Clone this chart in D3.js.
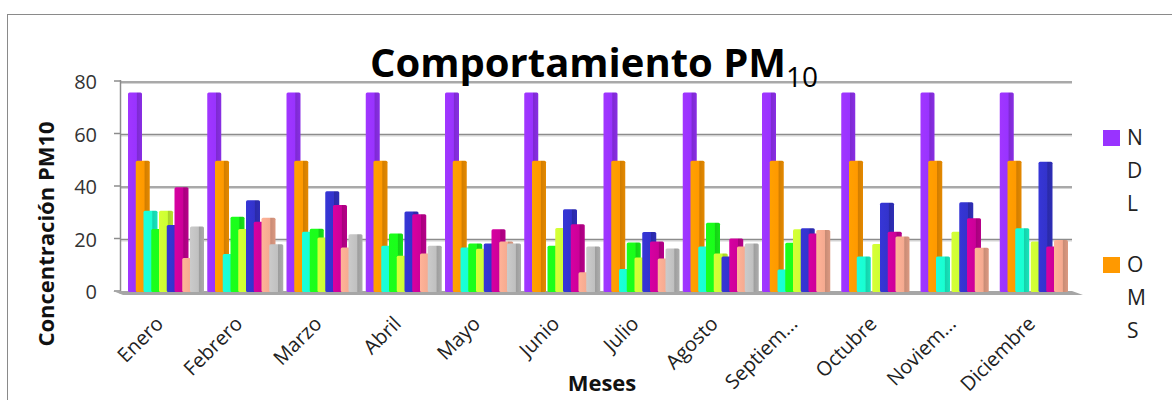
<!DOCTYPE html>
<html>
<head>
<meta charset="utf-8">
<script src="https://cdn.jsdelivr.net/npm/d3@7"></script>
<style>
  html, body { margin: 0; padding: 0; background: #fff; }
  svg { display: block; font-family: 'Open Sans', sans-serif; }
</style>
</head>
<body>
<div id="chart"></div>
<script>
// Meses (etiquetas tal como aparecen, truncadas)
const months = ['Enero', 'Febrero', 'Marzo', 'Abril', 'Mayo', 'Junio', 'Julio',
  'Agosto', 'Septiem...', 'Octubre', 'Noviem...', 'Diciembre'];

// Series
const ndl     = [76, 76, 76, 76, 76, 76, 76, 76, 76, 76, 76, 76];
const oms     = [50, 50, 50, 50, 50, 50, 50, 50, 50, 50, 50, 50];
const serie3  = [31, 14.5, 23, 17.6, 17, 0, 8.8, 17.3, 8.6, 13.5, 13.5, 24.3];
const serie4  = [24, 28.7, 24.1, 22.3, 18.5, 17.6, 18.9, 26.4, 18.8, 0, 0, 0];
const serie5  = [31, 24, 20.8, 13.8, 16.5, 24.4, 13.1, 14.7, 23.9, 18.3, 23, 19.2];
const serie6  = [25.5, 35, 38.4, 30.7, 18.5, 31.5, 22.9, 13.5, 24.3, 34, 34.2, 49.6];
const serie7  = [39.9, 26.8, 33.1, 29.6, 23.9, 25.8, 19.2, 20.4, 22.3, 23, 28.1, 17.3];
const serie8  = [13, 28.3, 17, 14.7, 19.2, 7.5, 12.8, 17.3, 23.6, 21.1, 16.9, 19.8];
const serie9  = [25, 18.2, 22, 17.6, 18.5, 17.3, 16.6, 18.5, 0, 0, 0, 0];

const seriesNames  = ['NDL', 'OMS', 'S3', 'S4', 'S5', 'S6', 'S7', 'S8', 'S9'];
const seriesValues = [ndl, oms, serie3, serie4, serie5, serie6, serie7, serie8, serie9];
const seriesColors = ['#9933FF', '#FF9900', '#19FFD1', '#1AFF1A', '#CCFF33',
  '#3333CC', '#CC0099', '#F5AA90', '#C0C0C0'];
const legendSeries = ['NDL', 'OMS'];

const yTicks = [0, 20, 40, 60, 80];

const width = 1172;
const height = 400;
const plot = { left: 121, right: 1072, top: 82, bottom: 292 };

const svg = d3.select('#chart').append('svg')
  .attr('width', width)
  .attr('height', height);

// Gradientes tipo 3D para las barras
const defs = svg.append('defs');
seriesColors.forEach((c, i) => {
  const g = defs.append('linearGradient')
    .attr('id', `grad${i}`)
    .attr('x1', 0).attr('x2', 1).attr('y1', 0).attr('y2', 0);
  g.append('stop').attr('offset', 0).attr('stop-color', d3.color(c).brighter(0.15));
  g.append('stop').attr('offset', 0.6).attr('stop-color', c);
  g.append('stop').attr('offset', 0.66).attr('stop-color', d3.color(c).darker(0.55));
  g.append('stop').attr('offset', 1).attr('stop-color', d3.color(c).darker(0.3));
});

// Borde del área del gráfico
svg.append('rect')
  .attr('x', 7.5).attr('y', 14.5)
  .attr('width', 1300).attr('height', 600)
  .attr('fill', 'none')
  .attr('stroke', '#8a8a8a')
  .attr('stroke-width', 1);

const x0 = d3.scaleBand()
  .domain(months)
  .range([plot.left + 1, plot.right + 1])
  .padding(0);

const step = 7.75;
const x1 = d3.scaleBand()
  .domain(seriesNames)
  .range([6, 6 + step * seriesNames.length]);
const barWidth = 14;

const y = d3.scaleLinear()
  .domain([0, 80])
  .range([plot.bottom, plot.top]);

// Líneas de cuadrícula
const grid = svg.append('g');
grid.selectAll('.grid-shadow')
  .data(yTicks.filter(d => d > 0))
  .join('line')
  .attr('x1', plot.left).attr('x2', plot.right)
  .attr('y1', d => y(d) + 1.5).attr('y2', d => y(d) + 1.5)
  .attr('stroke', '#d4d4d4').attr('stroke-width', 1);
grid.selectAll('.grid-line')
  .data(yTicks.filter(d => d > 0))
  .join('line')
  .attr('x1', plot.left).attr('x2', plot.right)
  .attr('y1', d => y(d)).attr('y2', d => y(d))
  .attr('stroke', '#8c8c8c').attr('stroke-width', 1.6);

// Eje Y (pared)
svg.append('line')
  .attr('x1', plot.left - 0.5).attr('x2', plot.left - 0.5)
  .attr('y1', y(80) - 2).attr('y2', y(0) + 2)
  .attr('stroke', '#8c8c8c').attr('stroke-width', 1.5);
svg.append('g').selectAll('line')
  .data(yTicks)
  .join('line')
  .attr('x1', plot.left - 7).attr('x2', plot.left)
  .attr('y1', d => y(d) - 1).attr('y2', d => y(d) - 1)
  .attr('stroke', '#8c8c8c').attr('stroke-width', 1.5);

// Suelo
svg.append('polygon')
  .attr('points', [
    [plot.left - 8, y(0) - 1], [plot.right, y(0) - 1],
    [plot.right + 11, y(0) + 3], [plot.left + 2, y(0) + 3]
  ].map(p => p.join(',')).join(' '))
  .attr('fill', '#a6a6a6');

// Barras: cada serie se dibuja encima de la anterior
const bars = svg.append('g');
seriesNames.forEach((name, si) => {
  bars.append('g')
    .selectAll('rect')
    .data(seriesValues[si].map((v, mi) => ({ month: months[mi], value: v })))
    .join('rect')
    .filter(d => d.value > 0)
    .attr('x', d => x0(d.month) + x1(name))
    .attr('y', d => y(d.value))
    .attr('width', barWidth)
    .attr('height', d => y(0) - y(d.value))
    .attr('rx', 1.5)
    .attr('fill', `url(#grad${si})`);
});

// Etiquetas del eje Y
svg.append('g').selectAll('text')
  .data(yTicks)
  .join('text')
  .attr('x', 97)
  .attr('y', d => y(d) + 7)
  .attr('text-anchor', 'end')
  .attr('font-size', '20px')
  .attr('fill', '#333')
  .text(d => d);

// Etiquetas de los meses (rotadas)
svg.append('g').selectAll('text')
  .data(months)
  .join('text')
  .attr('transform', d => `translate(${x0(d) + x0.bandwidth() / 2 + 3},${325}) rotate(-45)`)
  .attr('text-anchor', 'end')
  .attr('font-size', '20px')
  .attr('fill', '#222')
  .text(d => d);

// Títulos de los ejes
svg.append('text')
  .attr('transform', `translate(54,234) rotate(-90)`)
  .attr('text-anchor', 'middle')
  .attr('font-size', '22px')
  .attr('font-weight', 'bold')
  .attr('fill', '#111')
  .text('Concentración PM10');

svg.append('text')
  .attr('x', 602)
  .attr('y', 391)
  .attr('text-anchor', 'middle')
  .attr('font-size', '22px')
  .attr('font-weight', 'bold')
  .attr('fill', '#111')
  .text('Meses');

// Título
const title = svg.append('text')
  .attr('x', 370)
  .attr('y', 77)
  .attr('font-size', '40px')
  .attr('font-weight', 'bold')
  .attr('fill', '#000');
title.append('tspan').text('Comportamiento PM');
title.append('tspan')
  .attr('dy', 10)
  .attr('font-size', '28px')
  .attr('font-weight', 'normal')
  .text('10');

// Leyenda (las etiquetas se parten letra a letra)
const legend = svg.append('g');
legendSeries.forEach((name, i) => {
  const si = seriesNames.indexOf(name);
  const top = 130 + i * 127;
  legend.append('rect')
    .attr('x', 1103).attr('y', top)
    .attr('width', 17).attr('height', 16)
    .attr('fill', seriesColors[si]);
  legend.append('g').selectAll('text')
    .data(name.split(''))
    .join('text')
    .attr('x', 1127)
    .attr('y', (d, k) => top + 15 + k * 33)
    .attr('font-size', '21px')
    .attr('fill', '#222')
    .text(d => d);
});
</script>
</body>
</html>
